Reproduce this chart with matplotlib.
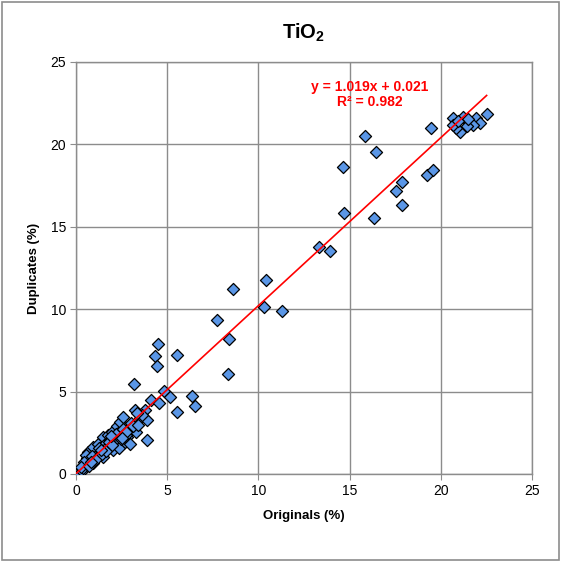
import numpy as np
import matplotlib
matplotlib.use("Agg")
import matplotlib.pyplot as plt
from matplotlib.patches import Rectangle

plt.rcParams["font.family"] = ["Liberation Sans", "DejaVu Sans"]
plt.rcParams["mathtext.fontset"] = "custom"
plt.rcParams["mathtext.rm"] = "Liberation Sans"
plt.rcParams["mathtext.bf"] = "Liberation Sans:bold"

# originals / duplicates (%)
originals = [
    # low cluster
    0.13, 0.31, 0.40, 0.58, 0.62, 0.77, 0.68, 0.86, 0.95, 0.95, 1.04, 1.13, 1.22, 1.32,
    1.41, 1.50, 1.50, 1.59, 1.68, 1.77, 1.86, 1.96, 2.05, 2.14, 2.23, 2.32, 2.37, 2.41,
    2.59, 2.69, 2.78, 2.87, 2.96, 3.05, 3.05, 3.23, 3.29, 3.51, 3.78, 3.91, 0.55, 0.45,
    0.25, 0.70, 0.90, 1.10, 1.25, 1.45, 1.65, 1.80, 2.00, 2.20, 2.45, 2.60, 2.75, 3.00,
    3.15, 3.40, 3.60, 1.35, 1.90, 2.50, 0.80, 3.35,
    # mid range
    3.91, 3.18, 4.11, 4.57, 4.84, 5.15, 6.38, 6.54, 5.52, 4.51, 4.31, 4.46, 5.55, 7.71,
    8.40, 8.33, 8.59, 10.42, 10.31, 11.31, 13.34, 13.93,
    # upper range
    14.71, 16.35, 17.87, 17.54, 17.87, 19.23, 19.59, 14.65, 16.43, 15.84, 19.45,
    20.69, 21.23, 21.93, 22.52, 22.15, 21.78, 21.42, 21.05, 20.83, 20.69, 21.51, 20.96,
]
duplicates = [
    0.08, 0.20, 0.34, 0.60, 0.95, 1.25, 1.35, 0.85, 0.65, 1.65, 1.05, 1.15, 1.85, 1.55,
    1.35, 1.05, 2.25, 1.85, 1.65, 2.36, 2.05, 2.56, 1.45, 2.05, 2.90, 2.46, 1.55, 3.16,
    3.46, 1.95, 2.25, 2.46, 1.85, 2.96, 2.76, 3.87, 2.56, 3.37, 3.87, 3.30, 1.15, 0.70,
    0.40, 0.50, 1.10, 0.90, 1.60, 1.20, 1.40, 1.95, 1.75, 2.40, 2.10, 2.70, 2.55, 3.10,
    2.90, 3.00, 3.55, 1.45, 2.30, 2.20, 0.75, 3.70,
    2.05, 5.44, 4.47, 4.31, 5.02, 4.67, 4.71, 4.15, 3.75, 7.90, 7.17, 6.54, 7.21, 9.37,
    8.18, 6.08, 11.20, 11.76, 10.15, 9.87, 13.79, 13.52,
    15.81, 15.55, 16.31, 17.20, 17.72, 18.17, 18.43, 18.61, 19.53, 20.48, 20.99,
    21.63, 21.69, 21.63, 21.83, 21.29, 21.15, 21.09, 20.74, 20.99, 21.19, 21.55, 21.39,
]

slope = 1.019
intercept = 0.021
r_squared = 0.982

fig = plt.figure(figsize=(5.61, 5.62), dpi=100)
ax = fig.add_axes([0.1355, 0.1566, 0.8125, 0.7331])

grid_col = "#8c8c8c"
ax.scatter(originals, duplicates, marker="D", s=38, facecolor="#5a96e6",
           edgecolor="black", linewidth=0.9, zorder=3)

xfit = np.array([0, max(originals)])
ax.plot(xfit, slope * xfit + intercept, color="red", lw=1.2, zorder=4)

ax.text(16.1, 23.5, f"y = {slope:.3f}x + {intercept:.3f}", color="red",
        fontsize=10, fontweight="bold", ha="center", va="center")
ax.text(16.1, 22.55, f"R² = {r_squared:.3f}", color="red",
        fontsize=10, fontweight="bold", ha="center", va="center")

ax.set_xlim(0, 25)
ax.set_ylim(0, 25)
ax.set_xticks(range(0, 26, 5))
ax.set_yticks(range(0, 26, 5))
ax.grid(True, color=grid_col, lw=1)
ax.set_axisbelow(True)
for sp in ax.spines.values():
    sp.set_color(grid_col)
    sp.set_linewidth(1)
ax.tick_params(direction="out", length=4, color=grid_col, labelsize=10, pad=3)

ax.set_xlabel("Originals (%)", fontsize=9.5, fontweight="bold", labelpad=9)
ax.set_ylabel("Duplicates (%)", fontsize=9.5, fontweight="bold", labelpad=8)
ax.set_title(r"$\mathbf{TiO_2}$", fontsize=14.5, pad=17)

fig.add_artist(Rectangle((0.004, 0.004), 0.992, 0.992, transform=fig.transFigure,
                         fill=False, edgecolor="#8c8c8c", lw=1.2))

fig.savefig("out.png", dpi=100)
